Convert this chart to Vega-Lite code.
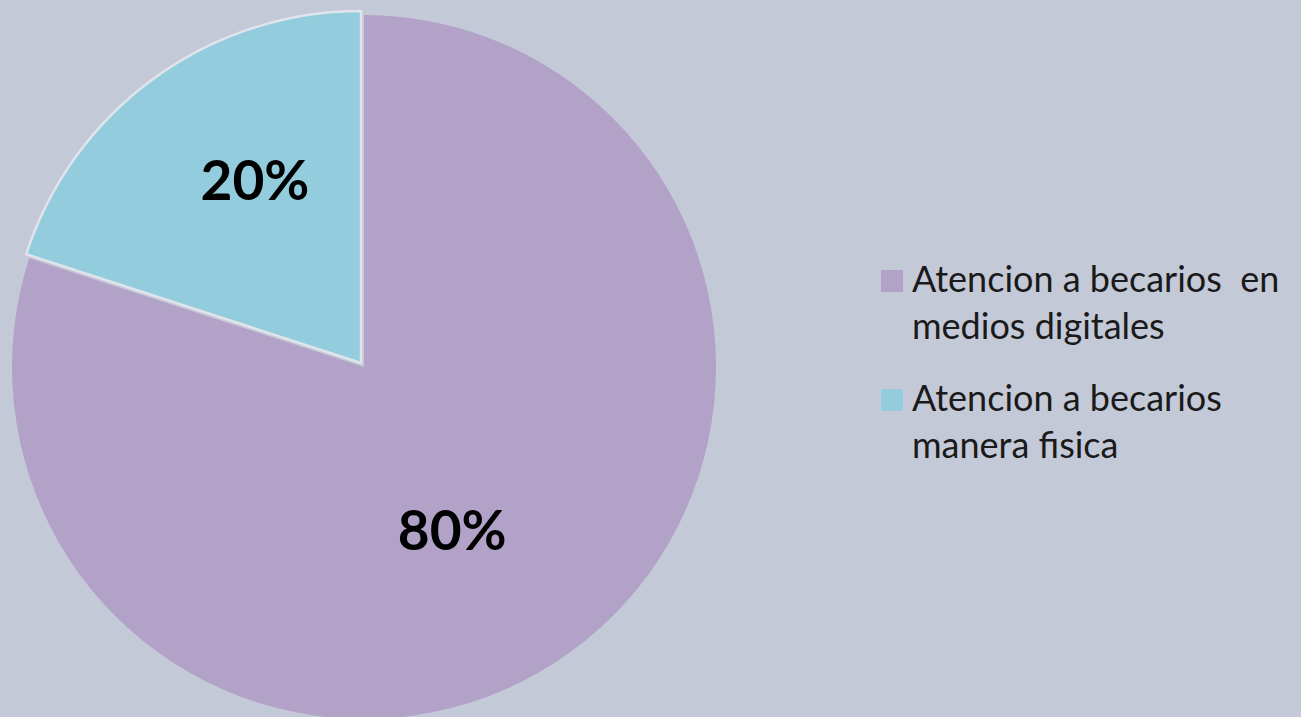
{
  "$schema": "https://vega.github.io/schema/vega-lite/v6.json",
  "width": 728,
  "height": 734,
  "padding": {"left": 0, "top": 0, "bottom": 0, "right": 80},
  "background": "#c4c9d8",
  "config": {
    "view": {"stroke": null},
    "style": {"guide-label": {"lineHeight": 47}}
  },
  "data": {
    "values": [
      {"categoria": "Atencion a becarios  en medios digitales", "porcentaje": 80, "orden": 1, "etiqueta": "80%"},
      {"categoria": "Atencion a becarios manera fisica", "porcentaje": 20, "orden": 2, "etiqueta": "20%"}
    ]
  },
  "encoding": {
    "theta": {"field": "porcentaje", "type": "quantitative", "stack": true},
    "order": {"field": "orden", "type": "quantitative"}
  },
  "layer": [
    {
      "mark": {"type": "arc", "radius": 352, "strokeWidth": 0},
      "encoding": {
        "color": {
          "field": "categoria",
          "type": "nominal",
          "scale": {
            "domain": ["Atencion a becarios  en medios digitales", "Atencion a becarios manera fisica"],
            "range": ["#b2a2c8", "#93cddd"]
          },
          "legend": {
            "title": null,
            "orient": "none",
            "legendX": 874,
            "legendY": 263,
            "symbolType": "square",
            "symbolSize": 484,
            "symbolStrokeWidth": 0,
            "symbolOpacity": 1,
            "labelFont": "Lato",
            "labelFontSize": 36,
            "labelColor": "#1a1a1a",
            "labelBaseline": "middle",
            "labelOffset": 2,
            "labelLimit": 500,
            "rowPadding": 36,
            "labelExpr": "datum.label == 'Atencion a becarios  en medios digitales' ? ['Atencion a becarios\u00a0 en', 'medios digitales'] : ['Atencion a becarios', 'manera fisica']"
          }
        },
        "opacity": {"condition": {"test": "datum.orden == 1", "value": 1}, "value": 0}
      }
    },
    {
      "mark": {"type": "arc", "radius": 352, "xOffset": -3, "yOffset": -4, "stroke": "#e2e4ec", "strokeWidth": 2.5},
      "encoding": {
        "color": {"field": "categoria", "type": "nominal", "legend": null},
        "opacity": {"condition": {"test": "datum.orden == 2", "value": 1}, "value": 0}
      }
    },
    {
      "mark": {"type": "text", "radius": 188, "thetaOffset": 0.14, "font": "Lato", "fontWeight": "bold", "fontSize": 55, "color": "#000000"},
      "encoding": {"text": {"condition": {"test": "datum.orden == 1", "field": "etiqueta"}, "value": ""}}
    },
    {
      "mark": {"type": "text", "radius": 209, "thetaOffset": 0.096, "xOffset": -3, "yOffset": -4, "font": "Lato", "fontWeight": "bold", "fontSize": 55, "color": "#000000"},
      "encoding": {"text": {"condition": {"test": "datum.orden == 2", "field": "etiqueta"}, "value": ""}}
    }
  ]
}
